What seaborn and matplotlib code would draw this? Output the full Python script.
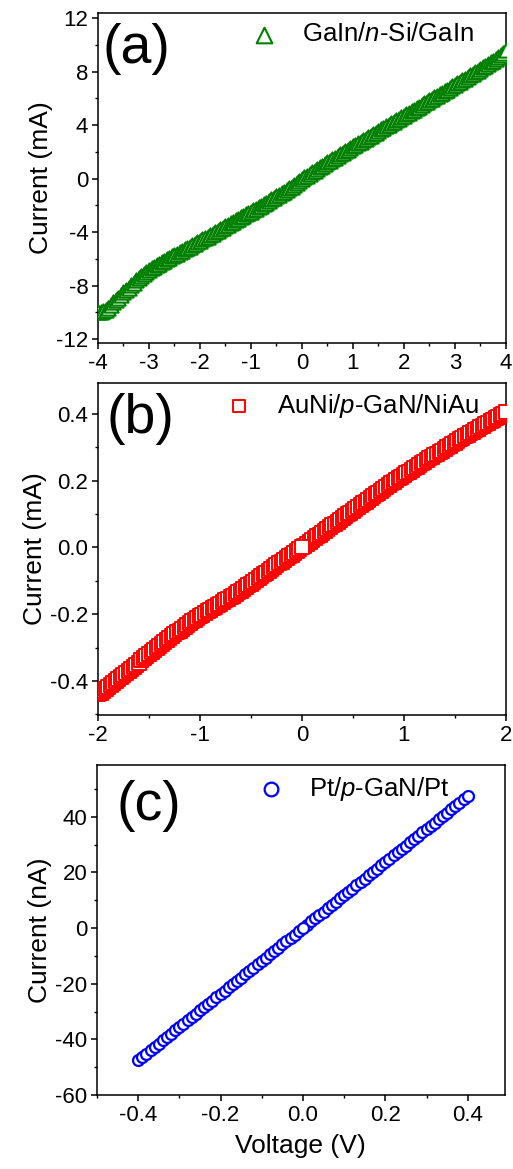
import numpy as np
import pandas as pd
import seaborn as sns
import matplotlib.pyplot as plt
from matplotlib.ticker import MultipleLocator

# (a) GaIn/n-Si/GaIn, current in mA, sweep -4..4 V in 0.05 V steps
curr_a = [-9.95, -9.95, -9.90, -9.80, -9.65, -9.45, -9.25, -9.07, -8.90, -8.70,
          -8.50, -8.32, -8.15, -7.97, -7.80, -7.62, -7.45, -7.28, -7.12, -6.98,
          -6.85, -6.72, -6.60, -6.48, -6.37, -6.25, -6.14, -6.03, -5.92, -5.82,
          -5.72, -5.61, -5.50, -5.40, -5.29, -5.18, -5.08, -4.97, -4.87, -4.76,
          -4.66, -4.55, -4.44, -4.33, -4.22, -4.11, -4.00, -3.89, -3.78, -3.67,
          -3.56, -3.45, -3.34, -3.23, -3.12, -3.01, -2.90, -2.79, -2.68, -2.57,
          -2.46, -2.35, -2.24, -2.13, -2.02, -1.91, -1.79, -1.68, -1.56, -1.45,
          -1.33, -1.22, -1.10, -0.98, -0.86, -0.73, -0.60, -0.47, -0.33, -0.19,
          -0.05, 0.09, 0.22, 0.35, 0.47, 0.60, 0.72, 0.85, 0.97, 1.09,
          1.21, 1.33, 1.45, 1.57, 1.69, 1.81, 1.93, 2.05, 2.17, 2.29,
          2.41, 2.53, 2.64, 2.76, 2.87, 2.99, 3.10, 3.22, 3.33, 3.45,
          3.56, 3.68, 3.79, 3.91, 4.02, 4.14, 4.25, 4.37, 4.48, 4.60,
          4.71, 4.83, 4.94, 5.06, 5.17, 5.29, 5.40, 5.52, 5.63, 5.75,
          5.86, 5.98, 6.09, 6.21, 6.32, 6.44, 6.55, 6.67, 6.78, 6.90,
          7.01, 7.13, 7.25, 7.37, 7.49, 7.61, 7.73, 7.85, 7.97, 8.09,
          8.21, 8.33, 8.46, 8.58, 8.71, 8.84, 8.97, 9.11, 9.25, 9.42, 9.60]
volt_a = np.round(np.linspace(-4, 4, len(curr_a)), 3)

# (b) AuNi/p-GaN/NiAu, current in mA, sweep -2..2 V in 0.025 V steps
curr_b = [-0.440, -0.435, -0.429, -0.424, -0.418, -0.412, -0.406, -0.401, -0.395, -0.389,
          -0.383, -0.377, -0.371, -0.364, -0.358, -0.351, -0.345, -0.338, -0.332, -0.325,
          -0.319, -0.312, -0.306, -0.300, -0.294, -0.288, -0.282, -0.276, -0.271, -0.265,
          -0.260, -0.254, -0.249, -0.243, -0.238, -0.232, -0.227, -0.221, -0.216, -0.211,
          -0.206, -0.201, -0.196, -0.191, -0.187, -0.182, -0.177, -0.172, -0.168, -0.163,
          -0.158, -0.153, -0.149, -0.144, -0.139, -0.134, -0.129, -0.124, -0.119, -0.114,
          -0.109, -0.103, -0.098, -0.092, -0.087, -0.081, -0.076, -0.070, -0.065, -0.059,
          -0.054, -0.048, -0.043, -0.037, -0.032, -0.027, -0.022, -0.016, -0.011, -0.005,
          0.000, 0.005, 0.011, 0.016, 0.022, 0.027, 0.033, 0.038, 0.044, 0.049,
          0.055, 0.060, 0.066, 0.071, 0.077, 0.082, 0.088, 0.093, 0.099, 0.104,
          0.110, 0.115, 0.121, 0.126, 0.132, 0.137, 0.143, 0.148, 0.154, 0.159,
          0.164, 0.170, 0.175, 0.181, 0.186, 0.192, 0.197, 0.202, 0.207, 0.212,
          0.217, 0.222, 0.227, 0.232, 0.237, 0.242, 0.247, 0.252, 0.257, 0.262,
          0.267, 0.271, 0.276, 0.281, 0.286, 0.290, 0.295, 0.300, 0.305, 0.309,
          0.314, 0.319, 0.324, 0.328, 0.333, 0.337, 0.342, 0.347, 0.352, 0.356,
          0.361, 0.365, 0.370, 0.374, 0.379, 0.383, 0.388, 0.392, 0.397, 0.401, 0.406]
volt_b = np.round(np.linspace(-2, 2, len(curr_b)), 4)

# (c) Pt/p-GaN/Pt, current in nA, sweep -0.4..0.4 V in 0.01 V steps
curr_c = [-47.4, -46.3, -45.1, -43.9, -42.7, -41.5, -40.3, -39.1, -37.9, -36.8,
          -35.6, -34.4, -33.2, -32.0, -30.8, -29.6, -28.5, -27.3, -26.1, -24.9,
          -23.7, -22.5, -21.3, -20.2, -19.0, -17.8, -16.6, -15.4, -14.2, -13.0,
          -11.9, -10.7, -9.5, -8.3, -7.1, -5.9, -4.7, -3.6, -2.4, -1.2,
          0.0, 1.2, 2.4, 3.5, 4.7, 5.9, 7.1, 8.3, 9.5, 10.7,
          11.8, 13.0, 14.2, 15.4, 16.6, 17.8, 19.0, 20.1, 21.3, 22.5,
          23.7, 24.9, 26.1, 27.3, 28.4, 29.6, 30.8, 32.0, 33.2, 34.4,
          35.6, 36.7, 37.9, 39.1, 40.3, 41.5, 42.7, 43.9, 45.0, 46.2, 47.4]
volt_c = np.round(np.linspace(-0.4, 0.4, len(curr_c)), 3)

sns.set_style("ticks")
plt.rcParams['font.family'] = ['Liberation Sans', 'DejaVu Sans']
plt.rcParams['mathtext.fontset'] = 'custom'
plt.rcParams['mathtext.rm'] = 'Liberation Sans'
plt.rcParams['mathtext.it'] = 'Liberation Sans:italic'
plt.rcParams['axes.unicode_minus'] = False
plt.rcParams['axes.linewidth'] = 1.1
plt.rcParams['axes.edgecolor'] = 'black'
plt.rcParams['axes.labelcolor'] = 'black'
plt.rcParams['text.color'] = 'black'
for ax_name in ['xtick', 'ytick']:
    plt.rcParams[ax_name + '.major.width'] = 1.1
    plt.rcParams[ax_name + '.minor.width'] = 1.0
    plt.rcParams[ax_name + '.major.size'] = 4
    plt.rcParams[ax_name + '.minor.size'] = 2.2
    plt.rcParams[ax_name + '.color'] = 'black'
    plt.rcParams[ax_name + '.labelcolor'] = 'black'


def draw_panel(ax, volt, curr, marker, color, size, lw, label, mscale, leg_xy,
               letter, letter_xy, zero_last=True):
    df = pd.DataFrame({'V': volt, 'I': curr})
    if zero_last:
        # the sweep ends at 0 V, so that point lands on top
        order = np.argsort(np.isclose(df['V'].to_numpy(), 0.0), kind='stable')
        df = df.iloc[order]
    sns.scatterplot(data=df, x='V', y='I', ax=ax, marker=marker, s=size,
                    facecolor='white', edgecolor=color, linewidth=lw,
                    label=label, zorder=3)
    ax.legend(loc='upper left', bbox_to_anchor=leg_xy, frameon=False,
              fontsize=18.5, handlelength=1.0, handletextpad=1.0,
              markerscale=mscale, borderaxespad=0.0, borderpad=0.4)
    ax.text(letter_xy[0], letter_xy[1], letter, transform=ax.transAxes,
            fontsize=40, va='baseline', ha='left')
    ax.tick_params(labelsize=16, pad=3)
    ax.set_xlabel('')


fig = plt.figure(figsize=(5.13, 11.69), dpi=100)
ax_a = fig.add_axes([0.191, 0.7066, 0.795, 0.2823])
ax_b = fig.add_axes([0.191, 0.3884, 0.795, 0.2840])
ax_c = fig.add_axes([0.189, 0.0633, 0.795, 0.2823])

draw_panel(ax_a, volt_a, curr_a, '^', 'green', 105, 1.5, 'GaIn/$n$-Si/GaIn', 1.1,
           (0.35, 1.003), '(a)', (0.012, 0.848), zero_last=False)
ax_a.set_xlim(-4, 4)
ax_a.set_ylim(-12.3, 12.4)
ax_a.xaxis.set_major_locator(MultipleLocator(1))
ax_a.xaxis.set_minor_locator(MultipleLocator(0.5))
ax_a.yaxis.set_major_locator(MultipleLocator(4))
ax_a.yaxis.set_minor_locator(MultipleLocator(2))
ax_a.set_ylabel('Current (mA)', fontsize=19, labelpad=2)

draw_panel(ax_b, volt_b, curr_b, 's', 'red', 95, 1.4, 'AuNi/$p$-GaN/NiAu', 0.88,
           (0.288, 1.0045), '(b)', (0.02, 0.849))
ax_b.set_xlim(-2, 2)
ax_b.set_ylim(-0.502, 0.493)
ax_b.xaxis.set_major_locator(MultipleLocator(1))
ax_b.xaxis.set_minor_locator(MultipleLocator(0.5))
ax_b.yaxis.set_major_locator(MultipleLocator(0.2))
ax_b.yaxis.set_minor_locator(MultipleLocator(0.1))
ax_b.yaxis.set_major_formatter(plt.FormatStrFormatter('%.1f'))
ax_b.set_ylabel('Current (mA)', fontsize=19, labelpad=2)

draw_panel(ax_c, volt_c, curr_c, 'o', 'blue', 62, 1.6, 'Pt/$p$-GaN/Pt', 1.25,
           (0.369, 1.0015), '(c)', (0.049, 0.833))
ax_c.set_xlim(-0.5, 0.49)
ax_c.set_ylim(-60, 58.6)
ax_c.xaxis.set_major_locator(MultipleLocator(0.2))
ax_c.xaxis.set_minor_locator(MultipleLocator(0.1))
ax_c.xaxis.set_major_formatter(plt.FormatStrFormatter('%.1f'))
ax_c.yaxis.set_major_locator(MultipleLocator(20))
ax_c.yaxis.set_minor_locator(MultipleLocator(10))
ax_c.set_ylabel('Current (nA)', fontsize=19, labelpad=2)
ax_c.set_xlabel('Voltage (V)', fontsize=19, labelpad=6)

fig.savefig('out.png', dpi=100)
